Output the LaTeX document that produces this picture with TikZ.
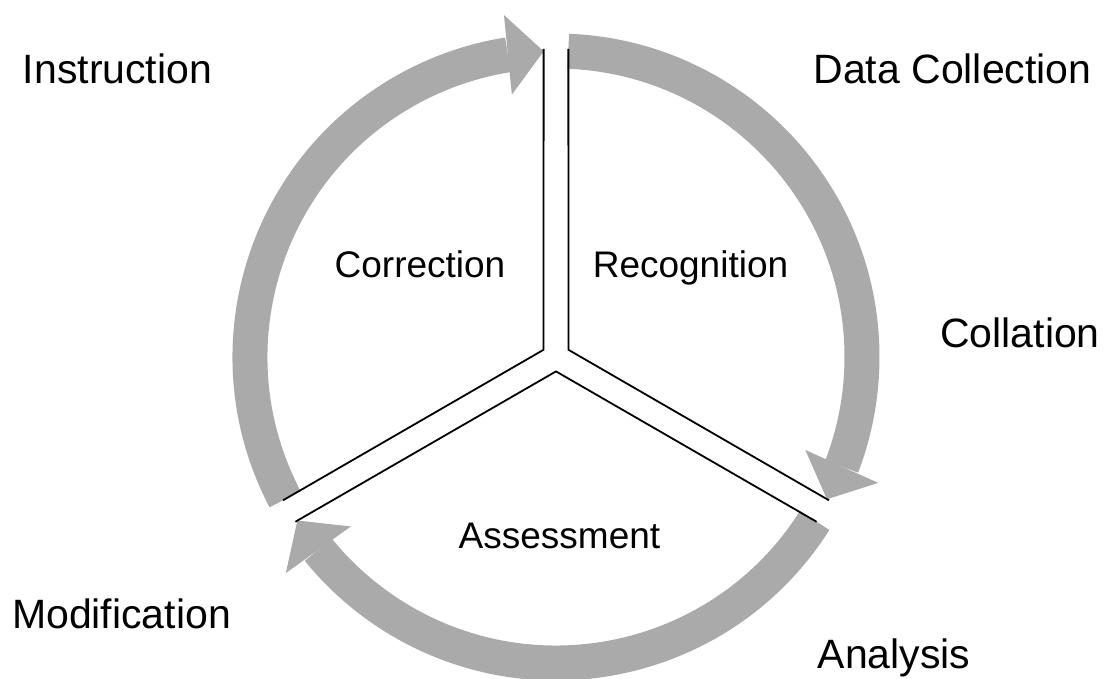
\documentclass[tikz,border=0pt]{standalone}
\usepackage{fontspec}
\setmainfont{Liberation Sans}
\usetikzlibrary{arrows.meta,bending}
\definecolor{cyclegray}{RGB}{170,170,170}
\tikzset{
  stage/.style={anchor=base,font=\fontsize{41}{41}\selectfont},
  phase/.style={anchor=base,font=\fontsize{37}{37}\selectfont},
  band/.style={line width=35pt,cyclegray,-{Triangle[width=80pt,length=36pt,line width=0pt]}},
  wall/.style={line width=1.8pt,black,line join=miter}
}
\begin{document}
\begin{tikzpicture}[x=1pt,y=1pt]
      \useasboundingbox (-556,-321) rectangle (550,357);
      \draw[band] (87.7:306) arc (87.7:-27.7:306);
      \draw[band] (-32.3:306) arc (-32.3:-147.7:306);
      \draw[band] (207.7:306) arc (207.7:92.3:306);
      \begin{scope}[wall]
        \draw (92.3:308.3) -- (150:14.4) -- (207.7:308.3);
        \draw (87.7:308.3) -- (30:14.4) -- (-27.7:308.3);
        \draw (-32.3:308.3) -- (270:14.4) -- (212.3:308.3);
      \end{scope}
      \draw
        (-438.5,273) node[stage] (instr){Instruction}
        (396.5,273) node[stage] (datacoll){Data Collection}
        (464,10) node[stage] (collat){Collation}
        (338,-311) node[stage] (analys){Analysis}
        (-434.5,-271) node[stage] (modif){Modification}
        (-136,80) node[phase] (correct){Correction}
        (134.5,80) node[phase] (recog){Recognition}
        (3.5,-191) node[phase] (assess){Assessment};
    \end{tikzpicture}
\end{document}
